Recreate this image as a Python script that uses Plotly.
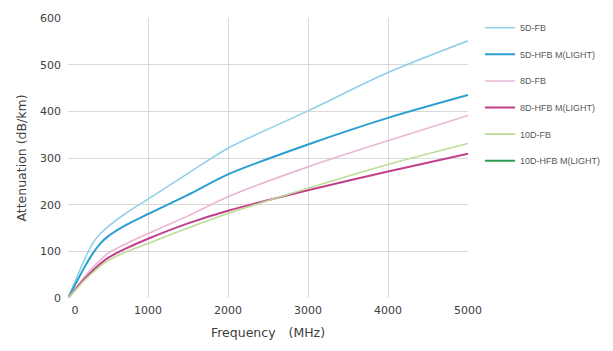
import plotly.graph_objects as go

freq = [0, 100, 200, 300, 400, 500, 700, 1000, 1500, 2000, 3000, 4000, 5000]

s5d_fb = [0, 40, 80, 115, 137, 153, 179, 212, 267, 321, 401, 483, 551]
s5d_hfb = [0, 32, 64, 93, 116, 132, 154, 180, 221, 265, 329, 386, 435]
s8d_fb = [0, 22, 44, 63, 81, 96, 114, 138, 176, 217, 281, 337, 391]
s8d_hfb = [0, 20, 40, 57, 73, 86, 104, 127, 160, 187, 231, 271, 309]
s10d_fb = [0, 18, 37, 53, 68, 80, 97, 117, 150, 181, 235, 286, 331]
s10d_hfb = [None] * len(freq)

names = ["5D-FB", "5D-HFB M(LIGHT)", "8D-FB", "8D-HFB M(LIGHT)", "10D-FB", "10D-HFB M(LIGHT)"]
series = [s5d_fb, s5d_hfb, s8d_fb, s8d_hfb, s10d_fb, s10d_hfb]
colors = ["#92cfe8", "#2a9fd0", "#eab6d4", "#c23f8c", "#bcdc96", "#2f9a52"]
widths = [1.6, 2.0, 1.6, 2.0, 1.6, 2.0]

x_ticks = [0, 1000, 2000, 3000, 4000, 5000]
x_ticktext = ["\u2007\u20070", "1000", "2000", "3000", "4000", "5000"]
y_ticks = [0, 100, 200, 300, 400, 500, 600]

fig = go.Figure()
for i, (n, s) in enumerate(zip(names, series)):
    fig.add_trace(go.Scatter(
        x=freq, y=s, name=n, mode="lines",
        line=dict(color=colors[i], width=widths[i], shape="spline", smoothing=0.8),
        legendgroup=str(i),
        showlegend=True,
    ))

font_main = "DejaVu Sans, Verdana, sans-serif"
fig.update_layout(
    width=613, height=351,
    margin=dict(l=68, r=145, t=18, b=53, autoexpand=False),
    paper_bgcolor="white", plot_bgcolor="white",
    font=dict(family=font_main, size=11, color="#404040"),
    legend=dict(
        x=1.03, y=1.017, xanchor="left", yanchor="top",
        font=dict(family="Liberation Sans, Arial, sans-serif", size=9, color="#595959"),
        tracegroupgap=7.6, itemwidth=30, bgcolor="rgba(0,0,0,0)",
    ),
    xaxis=dict(
        range=[0, 5000], tickvals=x_ticks, ticktext=x_ticktext,
        showgrid=True, gridcolor="#d9d9d9", gridwidth=1,
        zeroline=False, showline=False, ticks="",
        ticklabelstandoff=4,
        title=dict(text="Frequency\u3000(MHz)", font=dict(size=12.5, color="#404040"), standoff=12),
    ),
    yaxis=dict(
        range=[0, 600], tickvals=y_ticks,
        showgrid=True, gridcolor="#d9d9d9", gridwidth=1,
        zeroline=False, showline=False, ticks="",
        ticklabelstandoff=6,
        title=dict(text="Attenuation (dB/km)", font=dict(size=12.5, color="#404040"), standoff=10),
    ),
)

fig.write_html("out.html")
